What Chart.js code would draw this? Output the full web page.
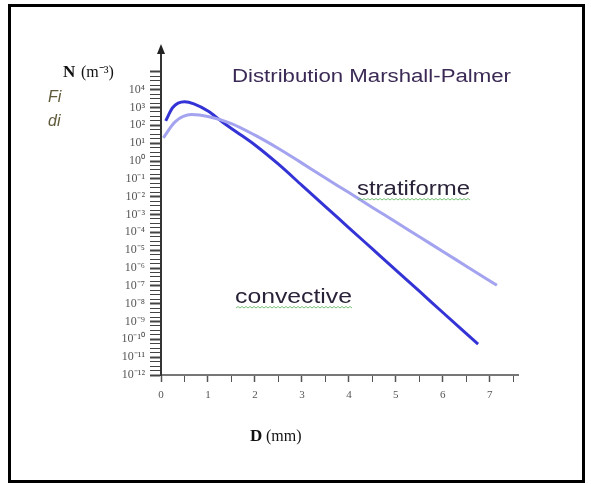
<!DOCTYPE html>
<html>
<head>
<meta charset="utf-8">
<script src="https://cdn.jsdelivr.net/npm/chart.js@4.4.1/dist/chart.umd.min.js"></script>
<style>
	html, body { margin: 0; padding: 0; background: #fff; }
	#dsd { display: block; }
</style>
</head>
<body>
<canvas id="dsd" width="591" height="484"></canvas>
<script>
// drop diameters (mm) and concentrations N (m-3)
const convD = [0.1, 0.25, 0.5, 0.7, 1.0, 1.3, 1.6, 2.0, 2.5, 3.0, 3.5, 4.0, 4.5, 5.0, 5.5, 6.0, 6.5, 6.75];
const convN = [178, 1000, 2090, 1600, 630, 158, 44, 7.9, 0.66, 0.043, 2.8e-3, 1.8e-4, 1.17e-5, 7.6e-7, 5.0e-8, 3.2e-9, 2.1e-10, 5.4e-11];

const stratD = [0.05, 0.3, 0.65, 1.0, 1.5, 2.0, 2.5, 3.0, 3.5, 4.0, 4.5, 5.0, 5.5, 6.0, 6.5, 7.15];
const stratN = [20, 158, 400, 316, 126, 28, 5.0, 0.76, 0.11, 0.017, 2.5e-3, 3.8e-4, 5.6e-5, 8.5e-6, 1.26e-6, 1.07e-7];

// tick marks: x every 0.5 mm, y every quarter decade from 10^-12 to 10^5
const xTicks = [0, 0.5, 1, 1.5, 2, 2.5, 3, 3.5, 4, 4.5, 5, 5.5, 6, 6.5, 7, 7.5];
const yExponents = [-12, -11, -10, -9, -8, -7, -6, -5, -4, -3, -2, -1, 0, 1, 2, 3, 4, 5];

const SUP = { '-': '\u207B', '0': '\u2070', '1': '\u00B9', '2': '\u00B2', '3': '\u00B3', '4': '\u2074',
	'5': '\u2075', '6': '\u2076', '7': '\u2077', '8': '\u2078', '9': '\u2079' };

function powLabel(e) {
	return '10' + String(e).split('').map(c => SUP[c]).join('');
}

function toPoints(xs, ys) {
	return xs.map((x, i) => ({ x: x, y: ys[i] }));
}

// draws text squeezed/stretched to a given width
function fitText(ctx, text, x, y, width) {
	let w = ctx.measureText(text).width;
	ctx.save();
	ctx.translate(x, y);
	ctx.scale(width / w, 1);
	ctx.fillText(text, 0, 0);
	ctx.restore();
}

function squiggle(ctx, x0, x1, y) {
	ctx.save();
	ctx.strokeStyle = 'rgba(90, 180, 90, 0.8)';
	ctx.lineWidth = 1;
	ctx.beginPath();
	ctx.moveTo(x0, y);
	let up = true;
	for (let x = x0 + 2; x <= x1; x += 2) {
		ctx.lineTo(x, up ? y - 1.5 : y);
		up = !up;
	}
	ctx.stroke();
	ctx.restore();
}

const framePlugin = {
	id: 'frame',
	beforeDraw(chart) {
		const ctx = chart.ctx;
		ctx.save();
		ctx.fillStyle = '#fff';
		ctx.fillRect(0, 0, chart.width, chart.height);
		ctx.strokeStyle = '#000';
		ctx.lineWidth = 3;
		ctx.strokeRect(9.5, 5.5, 574, 476);
		ctx.restore();
	},
	afterDraw(chart) {
		const ctx = chart.ctx;
		const area = chart.chartArea;
		ctx.save();

		// arrow on top of the N axis
		ctx.fillStyle = '#222';
		ctx.beginPath();
		ctx.moveTo(area.left, area.top - 10);
		ctx.lineTo(area.left - 4, area.top);
		ctx.lineTo(area.left + 4, area.top);
		ctx.closePath();
		ctx.fill();

		// axis titles
		ctx.fillStyle = '#111';
		ctx.textBaseline = 'alphabetic';
		ctx.font = 'bold 17px "Liberation Serif", serif';
		ctx.fillText('N', 63, 77);
		ctx.font = '16px "Liberation Serif", serif';
		ctx.fillText('(m\u207B\u00B3)', 81, 77);

		ctx.font = 'bold 17px "Liberation Serif", serif';
		ctx.fillText('D', 250, 441);
		ctx.font = '16px "Liberation Serif", serif';
		ctx.fillText('(mm)', 266, 441);

		ctx.fillStyle = '#5f5a3a';
		ctx.font = 'italic 16px "Liberation Sans", sans-serif';
		ctx.fillText('Fi', 48, 102);
		ctx.fillText('di', 48, 126);

		// title and regime labels
		ctx.fillStyle = '#3b2a55';
		ctx.font = '18px "Liberation Sans", sans-serif';
		fitText(ctx, 'Distribution Marshall-Palmer', 232, 82, 279);

		ctx.fillStyle = '#2a2238';
		ctx.font = '21px "Liberation Sans", sans-serif';
		fitText(ctx, 'stratiforme', 357, 195, 113);
		fitText(ctx, 'convective', 235, 303, 117);
		squiggle(ctx, 358, 470, 200);
		squiggle(ctx, 236, 352, 308);

		ctx.restore();
	}
};

const target = document.getElementById('dsd');
new Chart(target, {
	type: 'line',
	data: {
		datasets: [{
			label: 'stratiforme',
			data: toPoints(stratD, stratN),
			borderColor: '#a3a3f0',
			borderWidth: 3,
			pointRadius: 0,
			cubicInterpolationMode: 'monotone',
			fill: false
		}, {
			label: 'convective',
			data: toPoints(convD, convN),
			borderColor: '#3434d6',
			borderWidth: 3,
			pointRadius: 0,
			cubicInterpolationMode: 'monotone',
			fill: false
		}]
	},
	options: {
		responsive: false,
		animation: false,
		events: [],
		layout: {
			padding: { left: 0, top: 54, right: 73, bottom: 30 }
		},
		plugins: {
			legend: { display: false },
			tooltip: { enabled: false }
		},
		scales: {
			x: {
				type: 'linear',
				min: 0,
				max: 7.6,
				afterBuildTicks: (scale) => {
					scale.ticks = xTicks.map(v => ({ value: v }));
				},
				afterFit: (scale) => {
					scale.height = 79;
				},
				ticks: {
					autoSkip: false,
					maxRotation: 0,
					padding: 7,
					color: '#555',
					font: { family: '"Liberation Serif", serif', size: 11 },
					callback: (v) => Number.isInteger(v) ? String(v) : ''
				},
				grid: {
					drawOnChartArea: false,
					drawTicks: true,
					tickLength: 7,
					tickColor: '#555',
					tickWidth: (ctx) => Number.isInteger(ctx.tick.value) ? 1.5 : 1
				},
				border: { color: '#777', width: 2 }
			},
			y: {
				type: 'logarithmic',
				min: 1e-12,
				max: 1e6,
				afterBuildTicks: (scale) => {
					let ticks = [];
					for (let k = yExponents[0] * 4; k <= yExponents[yExponents.length - 1] * 4; k++) {
						ticks.push({ value: Math.pow(10, k / 4) });
					}
					scale.ticks = ticks;
				},
				afterFit: (scale) => {
					scale.width = 161;
				},
				ticks: {
					autoSkip: false,
					padding: 5,
					color: '#555',
					font: { family: '"Liberation Serif", serif', size: 12 },
					callback: (v) => {
						let e = Math.log10(v);
						let r = Math.round(e);
						if (Math.abs(e - r) > 1e-6 || r > 4) return '';
						return powLabel(r);
					}
				},
				grid: {
					drawOnChartArea: false,
					drawTicks: true,
					tickLength: 11,
					tickColor: '#444',
					tickWidth: (ctx) => {
						let e = Math.log10(ctx.tick.value);
						return Math.abs(e - Math.round(e)) < 1e-6 ? 2 : 1;
					}
				},
				border: { color: '#333', width: 2 }
			}
		}
	},
	plugins: [framePlugin]
});
</script>
</body>
</html>
